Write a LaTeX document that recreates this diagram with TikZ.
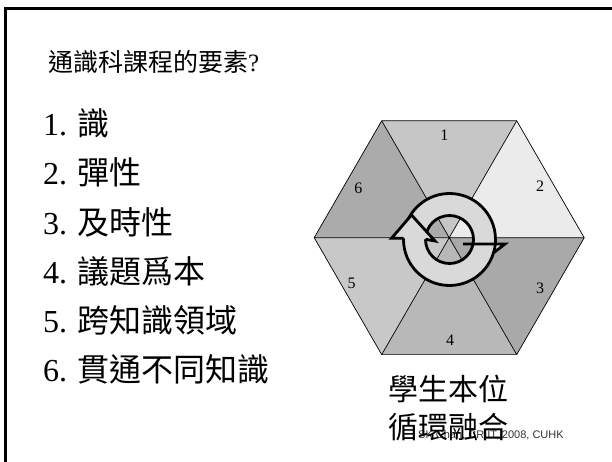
\documentclass[tikz,border=0pt]{standalone}
\usepackage{fontspec}
\setmainfont{Liberation Serif}
\newfontfamily\cjk{Noto Sans CJK TC}
\newfontfamily\smallsans{Liberation Sans}
\definecolor{tA}{HTML}{C6C6C6}
\definecolor{tB}{HTML}{EBEBEB}
\definecolor{tC}{HTML}{A9A9A9}
\definecolor{tD}{HTML}{B8B8B8}
\definecolor{tE}{HTML}{C8C8C8}
\definecolor{tF}{HTML}{ABABAB}
\definecolor{ringgray}{HTML}{D9D9D9}
\definecolor{notegray}{HTML}{333333}
\tikzset{
  listitem/.style={anchor=base west, inner sep=0pt, font=\fontsize{32}{32}\selectfont},
  titletext/.style={anchor=base west, inner sep=0pt, font=\fontsize{25}{25}\selectfont},
  hexnum/.style={inner sep=0pt, font=\fontsize{16}{16}\selectfont},
  hexcaption/.style={anchor=base west, inner sep=0pt, font=\cjk\fontsize{30}{30}\selectfont},
  edge/.style={draw=black, line width=0.7pt},
  ringline/.style={draw=black, line width=2.8pt, line join=miter},
}
\begin{document}
\begin{tikzpicture}[x=1pt,y=-1pt]
\useasboundingbox (0,0) rectangle (612,462);
% frame
\draw[line width=2.2pt] (5.5,462) -- (5.5,8.5) -- (612,8.5);
% title and list
\node[titletext] (title) at (48,72) {{\cjk 通識科課程的要素}?};
\node[listitem] (i1) at (43,136) {1. {\cjk 識}};
\node[listitem] (i2) at (43,185) {2. {\cjk 彈性}};
\node[listitem] (i3) at (43,234) {3. {\cjk 及時性}};
\node[listitem] (i4) at (43,283) {4. {\cjk 議題爲本}};
\node[listitem] (i5) at (43,332) {5. {\cjk 跨知識領域}};
\node[listitem] (i6) at (43,381) {6. {\cjk 貫通不同知識}};
% hexagon
\coordinate (H) at (449.2,237.7);
\coordinate (V0) at (584.2,237.7);
\coordinate (V1) at (516.7,120.8);
\coordinate (V2) at (381.7,120.8);
\coordinate (V3) at (314.2,237.7);
\coordinate (V4) at (381.7,354.6);
\coordinate (V5) at (516.7,354.6);
\fill[tA] (H) -- (V2) -- (V1) -- cycle;
\fill[tB] (H) -- (V1) -- (V0) -- cycle;
\fill[tC] (H) -- (V0) -- (V5) -- cycle;
\fill[tD] (H) -- (V5) -- (V4) -- cycle;
\fill[tE] (H) -- (V4) -- (V3) -- cycle;
\fill[tF] (H) -- (V3) -- (V2) -- cycle;
\draw[edge, line join=round] (V0) -- (V1) -- (V2) -- (V3) -- (V4) -- (V5) -- cycle;
\draw[edge] (V0) -- (V3) (V1) -- (V4) (V2) -- (V5);
\node[hexnum] (n1) at (444.3,135) {1};
\node[hexnum] (n2) at (540,186.7) {2};
\node[hexnum] (n3) at (540,288) {3};
\node[hexnum] (n4) at (450,340) {4};
\node[hexnum] (n5) at (351.7,283.3) {5};
\node[hexnum] (n6) at (358.3,188.3) {6};
% circular arrow
\coordinate (C) at (449.5,239.5);
\fill[ringgray, even odd rule] (C) circle[radius=46] (C) circle[radius=24];
% right flare (second arrow head, mostly hidden)
\fill[ringgray] (495.3,244) -- (505,244) -- (494,252.5) -- cycle;
\draw[ringline] (494,252.5) -- (505,244) -- (463,244);
\draw[ringline] (C) circle[radius=46];
\draw[ringline] (C) circle[radius=24];
% left arrow head
\coordinate (T) at (391.5,238.3);
\coordinate (P1) at (411.5,215);
\coordinate (P2) at (435,241);
\coordinate (P3) at (425.5,239.3);
\coordinate (O) at (403.5,238.3);
\fill[ringgray] (T) -- (P1) -- (P2) -- (P3) -- (O) -- cycle;
\draw[ringline] (O) -- (T) -- (P1) -- (P2) -- (P3);
% note and caption
\node[anchor=base west, inner sep=0pt, text=notegray, font=\smallsans\fontsize{11}{11}\selectfont] (note) at (418,438) {SK Chan, CRIIT, 2008, CUHK};
\node[hexcaption] (cap1) at (388,400) {學生本位};
\node[hexcaption] (cap2) at (388,438) {循環融合};
\end{tikzpicture}
\end{document}
